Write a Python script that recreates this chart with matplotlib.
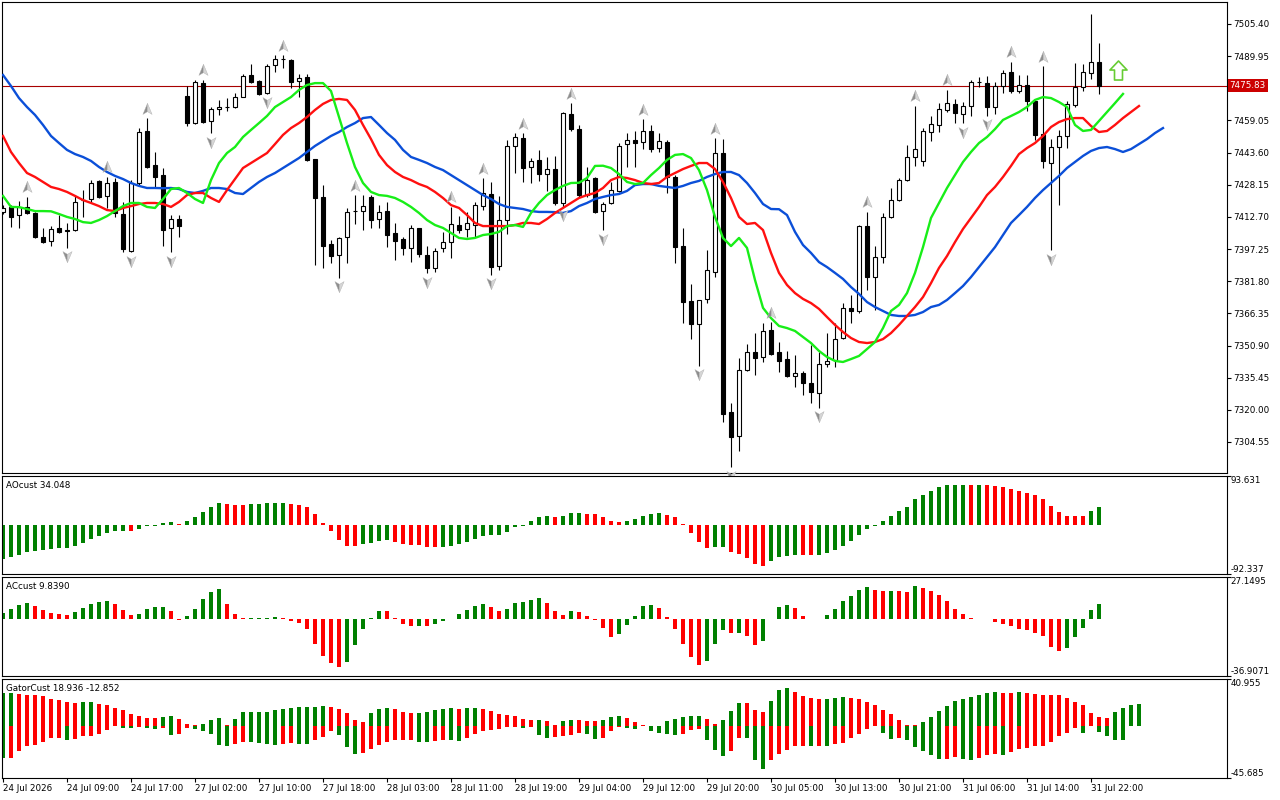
import numpy as np
import matplotlib
matplotlib.use("Agg")
import matplotlib.pyplot as plt
import matplotlib.transforms as mtransforms
from matplotlib.path import Path

# hourly candles, 24 Jul - 31 Jul 2026
opens = [7415.1, 7417.5, 7413.6, 7417.5, 7414.6, 7403.1, 7401.1, 7407.4, 7406.4, 7406.4,
         7420.8, 7421.3, 7429.9, 7422.8, 7429.5, 7414.1, 7396.3, 7429.0, 7454.0, 7437.6,
         7432.8, 7407.4, 7411.7, 7470.8, 7457.8, 7477.0, 7458.8, 7464.6, 7465.5, 7465.5,
         7470.3, 7480.9, 7478.0, 7472.2, 7485.7, 7488.6, 7488.1, 7478.0, 7479.9, 7440.5,
         7422.3, 7399.7, 7394.4, 7403.1, 7415.5, 7415.5, 7422.3, 7411.7, 7415.5, 7405.0,
         7402.1, 7397.8, 7407.4, 7394.4, 7388.2, 7397.8, 7400.6, 7408.8, 7406.9, 7408.8,
         7417.9, 7423.7, 7389.1, 7411.2, 7446.8, 7450.6, 7436.7, 7440.1, 7433.3, 7435.7,
         7419.4, 7462.1, 7454.9, 7423.2, 7431.4, 7415.5, 7419.4, 7425.2, 7447.7, 7449.7,
         7448.7, 7454.0, 7445.8, 7448.7, 7431.9, 7398.7, 7372.3, 7361.3, 7373.3, 7386.2,
         7443.4, 7319.0, 7307.4, 7339.2, 7347.8, 7345.4, 7358.4, 7347.8, 7344.4, 7336.3,
         7337.7, 7332.9, 7328.1, 7342.0, 7343.9, 7354.5, 7368.9, 7367.5, 7408.3, 7383.8,
         7393.4, 7412.7, 7420.8, 7430.4, 7441.5, 7439.6, 7453.5, 7456.9, 7464.1, 7467.0,
         7462.1, 7466.0, 7477.5, 7477.0, 7465.5, 7475.6, 7482.3, 7473.2, 7476.1, 7468.4,
         7452.5, 7438.6, 7446.3, 7451.6, 7466.5, 7475.1, 7481.9, 7487.2]
highs = [7418.4, 7418.4, 7420.4, 7422.3, 7415.1, 7407.4, 7408.3, 7413.6, 7409.7, 7422.8,
         7425.6, 7430.4, 7430.4, 7431.9, 7431.4, 7419.9, 7430.4, 7455.4, 7460.2, 7443.9,
         7436.2, 7413.6, 7413.6, 7475.6, 7478.5, 7478.5, 7465.5, 7468.9, 7469.8, 7472.2,
         7481.4, 7486.2, 7478.5, 7486.2, 7490.5, 7490.5, 7488.6, 7481.4, 7481.4, 7440.6,
         7428.0, 7401.6, 7403.1, 7417.0, 7423.2, 7423.2, 7423.2, 7418.4, 7419.9, 7409.8,
         7403.1, 7408.8, 7407.4, 7398.7, 7397.8, 7405.5, 7417.5, 7413.1, 7415.1, 7419.9,
         7431.4, 7429.5, 7422.8, 7449.7, 7453.0, 7453.0, 7441.0, 7444.9, 7441.5, 7442.0,
         7463.1, 7467.4, 7456.9, 7436.7, 7431.9, 7419.9, 7429.5, 7448.2, 7453.0, 7454.0,
         7459.7, 7456.9, 7453.0, 7449.7, 7432.8, 7407.4, 7380.5, 7372.9, 7396.8, 7450.6,
         7450.1, 7323.3, 7344.9, 7351.6, 7356.9, 7361.7, 7362.2, 7352.6, 7348.3, 7346.4,
         7338.7, 7351.2, 7347.8, 7356.9, 7361.7, 7371.3, 7375.2, 7408.8, 7415.1, 7398.7,
         7414.6, 7426.6, 7431.4, 7447.3, 7466.0, 7455.4, 7461.2, 7467.4, 7473.7, 7469.4,
         7467.9, 7478.5, 7479.9, 7480.4, 7477.5, 7483.3, 7487.2, 7480.9, 7480.9, 7468.9,
         7485.2, 7450.1, 7454.5, 7468.4, 7486.7, 7486.2, 7510.2, 7496.3]
lows = [7414.1, 7407.9, 7407.4, 7414.1, 7402.6, 7400.2, 7398.7, 7405.0, 7397.8, 7405.9,
        7412.7, 7419.4, 7421.8, 7417.0, 7412.7, 7395.8, 7395.8, 7428.0, 7436.2, 7427.1,
        7398.7, 7395.8, 7403.1, 7456.4, 7457.3, 7457.8, 7453.0, 7461.7, 7463.6, 7465.0,
        7470.3, 7477.0, 7471.3, 7471.8, 7482.3, 7484.3, 7474.6, 7470.3, 7439.6, 7389.6,
        7388.2, 7390.6, 7383.4, 7390.6, 7409.3, 7406.4, 7407.4, 7407.4, 7398.2, 7392.0,
        7394.4, 7391.0, 7393.4, 7385.7, 7386.2, 7395.8, 7392.9, 7405.0, 7403.1, 7403.1,
        7416.0, 7384.8, 7387.2, 7404.5, 7433.8, 7429.5, 7429.0, 7430.0, 7425.2, 7418.4,
        7417.5, 7454.0, 7422.3, 7422.3, 7414.6, 7406.4, 7418.9, 7424.7, 7436.7, 7436.7,
        7445.3, 7443.9, 7443.9, 7424.2, 7390.6, 7361.7, 7354.0, 7341.1, 7371.3, 7383.8,
        7314.2, 7292.5, 7300.2, 7338.7, 7336.8, 7343.0, 7346.4, 7338.2, 7335.8, 7331.0,
        7327.1, 7323.3, 7320.9, 7340.6, 7340.6, 7354.0, 7361.7, 7366.5, 7377.6, 7368.0,
        7390.6, 7412.2, 7420.4, 7430.0, 7437.2, 7437.2, 7449.2, 7453.5, 7463.1, 7457.8,
        7457.8, 7461.2, 7475.1, 7461.2, 7462.1, 7472.3, 7472.2, 7472.2, 7463.6, 7449.7,
        7436.2, 7396.8, 7418.4, 7445.8, 7465.5, 7473.2, 7479.0, 7471.8]
closes = [7417.0, 7412.7, 7417.5, 7414.6, 7403.1, 7400.6, 7406.9, 7405.5, 7406.0, 7419.9,
          7420.6, 7429.0, 7422.3, 7429.0, 7414.6, 7397.3, 7429.0, 7453.5, 7436.7, 7431.9,
          7406.4, 7411.7, 7408.3, 7457.8, 7477.5, 7458.3, 7464.6, 7465.5, 7465.7, 7470.3,
          7480.4, 7477.5, 7471.8, 7485.2, 7488.6, 7488.8, 7477.5, 7479.4, 7440.1, 7421.8,
          7398.7, 7393.9, 7402.6, 7415.1, 7415.6, 7417.9, 7411.2, 7415.1, 7404.0, 7401.1,
          7397.8, 7407.4, 7394.9, 7388.2, 7396.3, 7400.6, 7409.3, 7406.4, 7409.8, 7418.4,
          7424.2, 7388.6, 7411.2, 7446.8, 7451.1, 7436.2, 7439.6, 7433.3, 7435.7, 7419.4,
          7462.6, 7454.9, 7423.2, 7430.4, 7415.1, 7418.9, 7425.6, 7446.8, 7449.7, 7448.2,
          7454.0, 7445.3, 7449.2, 7431.9, 7398.2, 7371.8, 7361.3, 7372.8, 7387.2, 7443.4,
          7318.0, 7307.0, 7339.2, 7347.8, 7344.9, 7357.9, 7346.8, 7343.5, 7336.3, 7337.7,
          7332.9, 7328.6, 7342.0, 7343.5, 7354.0, 7368.9, 7367.5, 7408.3, 7383.8, 7393.4,
          7412.7, 7420.8, 7430.4, 7441.5, 7445.3, 7454.0, 7457.3, 7464.6, 7467.4, 7462.6,
          7466.0, 7477.5, 7477.6, 7465.5, 7475.6, 7481.9, 7473.2, 7476.1, 7468.4, 7452.1,
          7439.6, 7446.3, 7451.6, 7467.0, 7475.1, 7482.3, 7487.2, 7475.83]

# alligator lines as drawn (already shifted forward)
jaw = [7480.9, 7475.6, 7469.8, 7465.5, 7461.7, 7456.9, 7451.6, 7448.2, 7444.9, 7442.9,
       7441.5, 7439.6, 7436.7, 7434.3, 7432.4, 7430.9, 7429.0, 7427.6, 7426.6, 7426.6,
       7426.5, 7426.6, 7426.1, 7424.7, 7424.2, 7425.2, 7426.6, 7426.6, 7426.1, 7424.2,
       7423.7, 7426.6, 7429.5, 7431.9, 7433.8, 7436.2, 7438.6, 7441.0, 7443.9, 7446.8,
       7449.2, 7451.6, 7453.5, 7455.9, 7457.8, 7460.2, 7460.7, 7456.9, 7453.0, 7449.7,
       7444.9, 7441.5, 7440.1, 7438.6, 7436.7, 7435.2, 7432.8, 7430.4, 7428.0, 7425.6,
       7423.2, 7421.3, 7418.9, 7417.5, 7417.0, 7416.5, 7415.5, 7415.1, 7415.1, 7415.0,
       7414.6, 7415.5, 7417.9, 7419.4, 7421.3, 7422.3, 7423.2, 7423.7, 7425.2, 7428.0,
       7428.5, 7428.5, 7427.6, 7427.1, 7426.6, 7427.6, 7429.0, 7430.0, 7431.9, 7433.3,
       7434.3, 7434.3, 7432.8, 7429.0, 7424.2, 7418.9, 7416.5, 7416.4, 7413.6, 7405.5,
       7399.2, 7395.4, 7391.0, 7388.6, 7385.8, 7382.9, 7379.0, 7375.7, 7371.8, 7369.4,
       7367.5, 7365.6, 7365.1, 7365.1, 7365.6, 7367.0, 7369.4, 7370.4, 7372.8, 7376.1,
       7379.5, 7383.8, 7388.6, 7393.4, 7398.2, 7404.0, 7409.8, 7413.6, 7417.5, 7421.8,
       7425.6, 7429.0, 7432.4, 7436.2, 7439.1, 7442.0, 7444.4, 7445.8, 7446.3, 7445.3,
       7443.9, 7445.3, 7447.7, 7450.1, 7453.0, 7455.4]
teeth = [7451.6, 7443.9, 7438.6, 7433.8, 7431.9, 7429.5, 7427.1, 7426.1, 7424.7, 7422.8,
         7420.8, 7419.4, 7417.9, 7416.0, 7415.5, 7417.0, 7417.9, 7418.9, 7419.4, 7419.4,
         7418.9, 7417.5, 7419.9, 7423.2, 7424.2, 7424.2, 7421.8, 7419.9, 7425.6, 7430.9,
         7436.2, 7438.6, 7441.0, 7443.4, 7447.7, 7452.1, 7455.4, 7457.8, 7460.7, 7464.1,
         7467.0, 7468.9, 7469.4, 7468.9, 7464.1, 7456.9, 7450.1, 7442.5, 7437.6, 7434.3,
         7431.9, 7430.4, 7428.5, 7427.1, 7424.7, 7421.8, 7418.4, 7417.0, 7413.6, 7409.8,
         7408.3, 7408.3, 7408.3, 7408.3, 7408.8, 7409.8, 7409.8, 7409.3, 7411.7, 7414.6,
         7417.0, 7419.4, 7421.8, 7423.2, 7424.2, 7426.6, 7430.4, 7431.9, 7431.4, 7430.4,
         7429.0, 7428.5, 7429.0, 7431.9, 7433.8, 7435.7, 7437.2, 7438.6, 7438.6, 7435.7,
         7429.5, 7421.8, 7412.7, 7409.3, 7409.8, 7406.4, 7395.4, 7385.8, 7380.0, 7376.1,
         7373.3, 7371.3, 7368.5, 7364.6, 7360.8, 7357.4, 7354.5, 7352.6, 7352.1, 7352.6,
         7354.0, 7356.9, 7360.8, 7365.1, 7369.4, 7374.2, 7380.9, 7388.2, 7393.9, 7400.6,
         7406.9, 7412.2, 7417.5, 7423.2, 7427.1, 7431.9, 7437.2, 7442.9, 7445.8, 7448.2,
         7451.6, 7455.9, 7458.3, 7459.7, 7460.2, 7460.2, 7456.4, 7453.5, 7454.0, 7456.9,
         7460.2, 7463.1, 7466.0]
lips = [7422.8, 7417.5, 7417.4, 7416.5, 7415.5, 7415.5, 7415.4, 7414.1, 7412.7, 7411.7,
        7410.2, 7409.8, 7411.2, 7413.1, 7415.5, 7417.9, 7419.4, 7419.4, 7417.5, 7417.0,
        7421.3, 7426.1, 7426.6, 7424.2, 7421.3, 7419.4, 7430.4, 7438.6, 7443.4, 7446.3,
        7451.1, 7454.5, 7457.8, 7461.2, 7465.5, 7467.9, 7470.3, 7473.7, 7476.1, 7477.0,
        7477.0, 7473.2, 7460.7, 7448.2, 7436.7, 7429.0, 7424.7, 7423.2, 7422.8, 7421.8,
        7419.9, 7417.5, 7414.6, 7411.2, 7408.8, 7407.4, 7405.0, 7402.6, 7402.1, 7402.6,
        7404.0, 7404.5, 7405.5, 7408.3, 7408.8, 7407.9, 7414.6, 7419.4, 7423.2, 7425.6,
        7427.6, 7429.0, 7429.1, 7431.4, 7437.2, 7437.3, 7436.2, 7433.3, 7429.5, 7428.5,
        7429.0, 7432.8, 7436.2, 7440.1, 7442.5, 7442.9, 7441.0, 7435.2, 7425.6, 7412.7,
        7402.6, 7398.7, 7402.6, 7397.8, 7382.4, 7369.0, 7364.1, 7360.3, 7359.3, 7357.9,
        7355.0, 7352.1, 7348.3, 7345.4, 7343.5, 7343.0, 7344.4, 7345.9, 7349.2, 7352.6,
        7359.3, 7367.5, 7370.4, 7376.1, 7385.8, 7398.2, 7412.2, 7419.4, 7426.6, 7432.8,
        7439.1, 7443.9, 7448.2, 7451.1, 7454.9, 7459.3, 7461.2, 7463.1, 7465.5, 7468.9,
        7470.3, 7469.8, 7467.9, 7465.5, 7456.9, 7454.0, 7454.5, 7458.8, 7463.1, 7467.4,
        7471.8]

up_fractals = [3, 13, 18, 25, 35, 44, 56, 60, 65, 71, 80, 89, 96, 108, 114, 118, 126, 130]
down_fractals = [8, 16, 21, 26, 33, 42, 53, 61, 70, 75, 87, 91, 102, 120, 123, 131]

ao = [-64, -61, -56, -50, -48, -47, -45, -43.2, -43, -39,
      -33, -26, -20, -14, -11.2, -10.8, -11.3, -7.5, -1.5, -0.5,
      5.0, 5.6, 2.0, 7.5, 15.6, 25, 34, 43, 41, 39.5,
      39.3, 41, 41.3, 41.6, 43, 43.3, 41, 39, 34, 22,
      4.4, -10.6, -27, -39, -39.5, -36, -34, -29, -28, -31.6,
      -34.7, -36.6, -36.8, -40.9, -41.0, -40.6, -38.4, -34.7, -31.6, -25.4,
      -19.8, -18.0, -17.9, -13.0, -3.7, -1.2, 7.4, 14.9, 18.6, 16.7,
      18.6, 24.2, 24.3, 22.3, 22.2, 16.7, 7.4, 5.6, 7.4, 11.2,
      18.6, 22.3, 24.2, 20.5, 14.9, 1.9, -14.3, -31.6, -42.8, -40.9,
      -40.8, -50.2, -53.9, -61.4, -72.5, -76.3, -67.0, -59.5, -57.7, -55.8,
      -55.9, -56.0, -55.7, -52.1, -46.5, -39.1, -29.8, -18.6, -7.4, -1.9,
      7.4, 18.6, 27.9, 35.3, 50.2, 57.7, 65.1, 72.5, 76.3, 76.4,
      76.5, 76.2, 76.3, 76.1, 74.4, 72.5, 68.8, 65.1, 61.4, 57.7,
      50.2, 37.2, 26.0, 18.6, 18.5, 18.4, 27.9, 34.048]
ac = [4.0, 6.4, 9.0, 10.5, 8.3, 5.8, 3.6, 3.5, 2.6, 4.3,
      7.3, 9.6, 10.9, 11.5, 9.6, 5.8, 2.6, 3.2, 6.4, 7.7,
      7.8, 5.1, -0.5, 1.9, 6.4, 12.8, 17.3, 19.2, 10.0, 3.2,
      0.4, 0.5, 0.6, 0.8, 1.0, 0.3, -1.0, -2.3, -6.2, -16.0,
      -24.1, -28.4, -31.2, -28.0, -16.6, -6.2, 0.6, 5.1, 5.0, 0.6,
      -3.2, -4.5, -4.3, -4.5, -3.2, -1.3, 0.2, 3.2, 5.8, 8.3,
      9.6, 7.7, 5.1, 6.4, 10.2, 10.9, 12.2, 13.5, 10.2, 5.1,
      2.6, 5.1, 4.5, 1.9, -0.6, -5.8, -11.5, -9.6, -3.8, 1.9,
      8.3, 9.0, 7.0, 1.3, -6.4, -16.0, -24.3, -30.1, -27.5, -16.0,
      -7.0, -9.0, -8.9, -10.9, -16.6, -14.1, 0.1, 7.7, 9.0, 7.0,
      1.9, -0.1, 0.0, 2.6, 6.4, 11.5, 14.7, 18.6, 20.5, 18.6,
      17.9, 18.1, 17.9, 17.3, 21.1, 19.9, 17.9, 15.4, 11.5, 6.4,
      3.2, 0.6, 0.1, -0.1, -1.9, -3.2, -4.5, -6.4, -7.0, -9.0,
      -10.9, -17.9, -20.5, -18.6, -11.5, -5.8, 5.8, 9.839]
gator_up = [28.9, 29.1, 27.5, 27.3, 27.0, 26.0, 23.1, 22.2, 20.8, 20.2,
            20.4, 21.1, 19.1, 17.9, 15.3, 13.9, 10.4, 8.7, 6.9, 6.8,
            7.8, 8.7, 6.1, 1.7, 1.0, 1.2, 5.2, 6.9, 0.6, 6.3,
            12.2, 12.3, 12.4, 12.5, 13.5, 14.5, 16.0, 16.3, 16.5, 16.8,
            17.4, 16.4, 14.8, 11.5, 5.0, 2.9, 11.0, 14.7, 15.6, 14.7,
            12.1, 11.3, 11.4, 12.1, 13.9, 14.7, 15.6, 14.7, 15.6, 15.7,
            14.7, 13.0, 10.4, 9.5, 8.7, 6.1, 5.2, 5.3, 4.3, 0.5,
            4.3, 5.2, 5.1, 4.3, 4.2, 5.2, 7.8, 8.7, 6.9, 3.5,
            0.3, 0.1, 0.2, 4.3, 6.1, 7.8, 8.7, 8.8, 6.1, 1.7,
            5.2, 13.0, 19.9, 19.7, 13.9, 12.1, 21.7, 31.2, 32.9, 29.4,
            26.0, 24.2, 23.4, 23.5, 24.3, 25.1, 24.2, 23.4, 20.8, 18.2,
            13.9, 10.4, 5.2, 0.9, 0.3, 3.5, 7.8, 13.0, 17.3, 21.7,
            23.4, 25.1, 26.8, 28.6, 29.4, 28.6, 28.5, 29.5, 28.6, 27.7,
            26.8, 26.7, 26.6, 24.2, 20.8, 18.2, 11.3, 7.8, 6.9, 12.1,
            15.6, 18.2, 18.936]
gator_dn = [-28.4, -28.2, -22.2, -17.9, -16.5, -14.4, -10.7, -10.6, -12.1, -11.5,
            -9.2, -9.1, -6.9, -3.5, -0.6, -1.5, -1.6, -1.0, -2.2, -3.0,
            -2.3, -7.8, -7.5, -2.3, -2.9, -4.9, -6.9, -17.0, -17.4, -15.6,
            -14.5, -14.6, -15.0, -15.8, -16.5, -15.6, -15.0, -15.5, -15.6, -12.7,
            -10.1, -4.9, -7.8, -18.5, -24.5, -24.0, -20.5, -16.5, -14.0, -12.7,
            -12.6, -12.5, -13.9, -14.4, -13.6, -12.7, -12.8, -13.6, -11.0, -7.5,
            -4.9, -4.0, -3.2, -0.9, -0.8, -2.3, -1.4, -8.4, -11.0, -10.1,
            -9.2, -8.4, -6.6, -7.5, -11.8, -11.0, -4.9, -1.4, -2.3, -2.4,
            -0.3, -4.9, -6.6, -7.5, -8.4, -7.5, -4.0, -3.2, -12.7, -21.4,
            -26.6, -22.2, -10.5, -11.0, -30.0, -37.8, -30.0, -24.8, -21.4, -17.9,
            -17.8, -18.0, -17.9, -18.0, -16.2, -15.3, -11.0, -7.5, -3.2, -0.6,
            -6.6, -11.8, -11.0, -12.7, -18.8, -22.2, -25.7, -29.2, -29.1, -27.7,
            -29.2, -30.0, -28.3, -25.7, -24.8, -25.7, -23.1, -20.5, -19.6, -17.9,
            -17.8, -14.4, -9.2, -6.6, -2.3, -6.6, -0.6, -5.8, -9.2, -12.0,
            -12.852]

time_labels = ["24 Jul 2026", "24 Jul 09:00", "24 Jul 17:00", "27 Jul 02:00", "27 Jul 10:00",
               "27 Jul 18:00", "28 Jul 03:00", "28 Jul 11:00", "28 Jul 19:00", "29 Jul 04:00",
               "29 Jul 12:00", "29 Jul 20:00", "30 Jul 05:00", "30 Jul 13:00", "30 Jul 21:00",
               "31 Jul 06:00", "31 Jul 14:00", "31 Jul 22:00"]
price_ticks = [7304.55, 7320.00, 7335.45, 7350.90, 7366.35, 7381.80, 7397.25, 7412.70,
               7428.15, 7443.60, 7459.05, 7474.50, 7489.95, 7505.40]
last_price = 7475.83
signal_x = 139.4
signal_price = 7483.5

ao_range = (-92.337, 93.631)
ac_range = (-36.9071, 27.1495)
gator_range = (-45.685, 40.955)

GREEN = "#008000"
RED = "#ff0000"
FS = 6.3

plt.rcParams["font.family"] = ["DejaVu Sans"]

fig = plt.figure(figsize=(12.8, 8), dpi=100)
L, W = 2 / 1280, 1225 / 1280
ax = fig.add_axes([L, 1 - 473 / 800, W, 471 / 800])
ax_ao = fig.add_axes([L, 1 - 574 / 800, W, 98 / 800])
ax_ac = fig.add_axes([L, 1 - 676 / 800, W, 99 / 800])
ax_gt = fig.add_axes([L, 1 - 778 / 800, W, 99 / 800])

xlim = (-0.125, 153)
for a in (ax, ax_ao, ax_ac, ax_gt):
    a.set_xlim(*xlim)
    for s in a.spines.values():
        s.set_linewidth(0.8)
        s.set_color("black")
    a.tick_params(axis="x", bottom=False, labelbottom=False)

# ---- main price panel
o = np.array(opens)
c = np.array(closes)
idx = np.arange(len(o))
bull = c >= o
ax.vlines(idx, lows, highs, color="black", lw=0.8, zorder=3)
ax.bar(idx[bull], (c - o)[bull], bottom=o[bull], width=0.55, color="white",
       edgecolor="black", lw=0.8, zorder=4)
ax.bar(idx[~bull], (o - c)[~bull], bottom=c[~bull], width=0.55, color="black",
       edgecolor="black", lw=0.8, zorder=4)

ax.plot(np.arange(len(jaw)), jaw, color="#0b4fd8", lw=1.7, zorder=5)
ax.plot(np.arange(len(teeth)), teeth, color="#ff1010", lw=1.7, zorder=5)
ax.plot(np.arange(len(lips)), lips, color="#18ee18", lw=1.7, zorder=5)

ax.axhline(last_price, color="#a80000", lw=0.8, zorder=2)


def poly(pts):
    return Path(pts + [pts[0]], [Path.MOVETO] + [Path.LINETO] * (len(pts) - 1) + [Path.CLOSEPOLY])


up_l = poly([(0, 1), (-0.75, -0.8), (0, -0.35)])
up_r = poly([(0, 1), (0.75, -0.8), (0, -0.35)])
dn_l = poly([(0, -1), (-0.75, 0.8), (0, 0.35)])
dn_r = poly([(0, -1), (0.75, 0.8), (0, 0.35)])

up_off = ax.transData + mtransforms.ScaledTranslation(0, 0.095, fig.dpi_scale_trans)
dn_off = ax.transData + mtransforms.ScaledTranslation(0, -0.085, fig.dpi_scale_trans)
hx = np.array(up_fractals)
hy = np.array(highs)[hx]
lx = np.array(down_fractals)
ly = np.array(lows)[lx]
for m, col in ((up_l, "#8e8e8e"), (up_r, "#d6d6d6")):
    ax.plot(hx, hy, ls="none", marker=m, ms=8.8, mfc=col, mec="#b0b0b0", mew=0.3,
            transform=up_off, zorder=6, clip_on=False)
for m, col in ((dn_l, "#8e8e8e"), (dn_r, "#d6d6d6")):
    ax.plot(lx, ly, ls="none", marker=m, ms=8.8, mfc=col, mec="#b0b0b0", mew=0.3,
            transform=dn_off, zorder=6, clip_on=False)

block_up = poly([(0, 1), (0.9, 0.05), (0.42, 0.05), (0.42, -1), (-0.42, -1),
                 (-0.42, 0.05), (-0.9, 0.05)])
ax.plot([signal_x], [signal_price], ls="none", marker=block_up, ms=13.7,
        mfc="white", mec="#66cc33", mew=1.2, zorder=7)

ax.set_ylim(7289.65, 7515.97)
ax.yaxis.tick_right()
ax.set_yticks(price_ticks)
# the tick nearest the last price sits under the price box, as in the terminal
ax.set_yticklabels(["" if abs(p - last_price) < 5 else "%.2f" % p for p in price_ticks])
ax.tick_params(axis="y", length=3, width=0.8, pad=1.5, labelsize=FS, direction="out")

blend = mtransforms.blended_transform_factory(ax.transAxes, ax.transData)
ax.text(1.0022, last_price, "%.2f" % last_price, transform=blend, ha="left", va="center",
        fontsize=FS, color="white", zorder=20, clip_on=False,
        bbox=dict(boxstyle="square,pad=0.22", fc="#cc0000", ec="none"))


def rise_colors(vals):
    cols = [GREEN]
    for a, b in zip(vals[:-1], vals[1:]):
        if b > a:
            cols.append(GREEN)
        elif b < a:
            cols.append(RED)
        else:
            cols.append(cols[-1])
    return cols


def sub_panel(a, rng, title, top_txt, bot_txt):
    a.set_ylim(*rng)
    a.yaxis.tick_right()
    a.set_yticks(list(rng))
    a.tick_params(axis="y", length=3, width=0.8, labelright=False, direction="out")
    a.text(0.003, 0.905, title, transform=a.transAxes, ha="left", va="center", fontsize=FS)
    a.text(1.003, 1.0, top_txt, transform=a.transAxes, ha="left", va="top", fontsize=FS)
    a.text(1.003, 0.0, bot_txt, transform=a.transAxes, ha="left", va="bottom", fontsize=FS)


# ---- AO
ax_ao.bar(np.arange(len(ao)), ao, width=0.5, color=rise_colors(ao), lw=0)
sub_panel(ax_ao, ao_range, "AOcust 34.048", "93.631", "-92.337")

# ---- AC
ax_ac.bar(np.arange(len(ac)), ac, width=0.5, color=rise_colors(ac), lw=0)
sub_panel(ax_ac, ac_range, "ACcust 9.8390", "27.1495", "-36.9071")

# ---- Gator
ax_gt.bar(np.arange(len(gator_up)), gator_up, width=0.5, color=rise_colors(gator_up), lw=0)
ax_gt.bar(np.arange(len(gator_dn)), gator_dn, width=0.5,
          color=rise_colors([abs(v) for v in gator_dn]), lw=0)
sub_panel(ax_gt, gator_range, "GatorCust 18.936 -12.852", "40.955", "-45.685")

ax_gt.set_xticks(np.arange(0, 8 * len(time_labels), 8))
ax_gt.set_xticklabels(time_labels, ha="left")
ax_gt.tick_params(axis="x", bottom=True, labelbottom=True, length=3, width=0.8,
                  pad=1.5, labelsize=FS, direction="out")

fig.savefig("out.png", dpi=100, facecolor="white")
